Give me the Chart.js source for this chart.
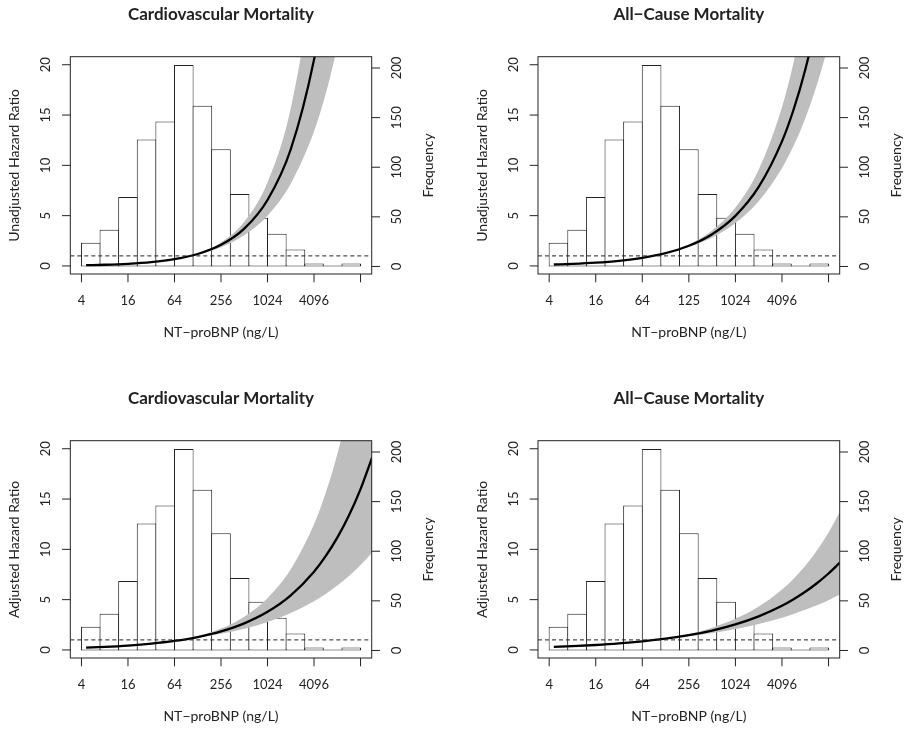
<!DOCTYPE html>
<html>
<head>
<meta charset="utf-8">
<script src="https://cdn.jsdelivr.net/npm/chart.js@4.4.1/dist/chart.umd.min.js"></script>
<style>
  html, body { margin: 0; padding: 0; background: #ffffff; overflow: hidden; }
  #wrap { position: relative; width: 906px; height: 729px; }
  canvas { position: absolute; }
</style>
</head>
<body>
<div id="wrap">
  <canvas id="c0" width="453" height="384" style="left:0px;top:0px"></canvas>
  <canvas id="c1" width="453" height="384" style="left:453px;top:0px"></canvas>
  <canvas id="c2" width="453" height="345" style="left:0px;top:384px"></canvas>
  <canvas id="c3" width="453" height="345" style="left:453px;top:384px"></canvas>
</div>
<script>
// ---------------- data (x positions are log2 of NT-proBNP, ng/L) ----------------
const X_CURVE = [2.2, 3, 4, 5, 6, 7, 8, 9, 10, 11, 12, 12.5, 13, 13.5, 14, 14.5];

// Unadjusted, cardiovascular mortality
const TL_EST = [0.077, 0.121, 0.215, 0.379, 0.671, 1.186, 2.098, 3.71, 6.56, 11.6, 20.51, 27.3, 36.3, 48.2, 64.1, 85.3];
const TL_UP  = [0.103, 0.153, 0.254, 0.42, 0.694, 1.227, 2.32, 4.39, 8.29, 15.68, 29.65, 40.8, 56.1, 77.1, 106, 145.8];
const TL_LO  = [0.055, 0.092, 0.177, 0.338, 0.645, 1.141, 1.866, 3.05, 4.99, 8.17, 13.36, 17.08, 21.85, 27.9, 35.7, 45.7];

// Unadjusted, all-cause mortality
const TR_EST = [0.143, 0.206, 0.325, 0.512, 0.807, 1.273, 2.006, 3.16, 4.98, 7.85, 12.38, 15.55, 19.51, 24.5, 30.8, 38.6];
const TR_UP  = [0.173, 0.241, 0.363, 0.547, 0.825, 1.301, 2.143, 3.53, 5.81, 9.57, 15.77, 20.25, 25.97, 33.3, 42.8, 54.9];
const TR_LO  = [0.119, 0.177, 0.291, 0.48, 0.79, 1.245, 1.878, 2.83, 4.27, 6.44, 9.72, 11.94, 14.66, 18.0, 22.1, 27.2];

// Adjusted, cardiovascular mortality
const BL_EST = [0.229, 0.305, 0.437, 0.626, 0.898, 1.287, 1.844, 2.643, 3.789, 5.43, 7.78, 9.32, 11.16, 13.36, 15.99, 19.15];
const BL_UP  = [0.321, 0.401, 0.529, 0.698, 0.92, 1.363, 2.123, 3.307, 5.15, 8.02, 12.49, 15.6, 19.45, 24.3, 30.3, 37.8];
const BL_LO  = [0.163, 0.232, 0.361, 0.562, 0.875, 1.214, 1.602, 2.113, 2.787, 3.677, 4.85, 5.57, 6.4, 7.35, 8.44, 9.69];

// Adjusted, all-cause mortality
const BR_EST = [0.299, 0.373, 0.491, 0.645, 0.849, 1.116, 1.468, 1.931, 2.54, 3.34, 4.39, 5.04, 5.78, 6.63, 7.6, 8.71];
const BR_UP  = [0.386, 0.46, 0.571, 0.708, 0.879, 1.142, 1.592, 2.219, 3.093, 4.31, 6.01, 7.09, 8.37, 9.88, 11.67, 13.78];
const BR_LO  = [0.232, 0.303, 0.422, 0.588, 0.82, 1.091, 1.354, 1.68, 2.085, 2.588, 3.212, 3.58, 3.987, 4.44, 4.95, 5.51];

// Histogram of NT-proBNP (bins of 0.8 log2 units from 4 to 16384 ng/L)
const HIST_MID  = [2.4, 3.2, 4.0, 4.8, 5.6, 6.4, 7.2, 8.0, 8.8, 9.6, 10.4, 11.2, 12.0, 12.8, 13.6];
const HIST_FREQ = [24, 37, 70, 128, 146, 203, 162, 118, 73, 49, 33, 17, 3, 1, 3];

// Axes
const X_TICKS = [2, 4, 6, 8, 10, 12, 14];
const X_LABELS = ['4', '16', '64', '256', '1024', '4096', ''];
const X_LABELS_TR = ['4', '16', '64', '125', '1024', '4096', ''];
const HR_TICKS = [0, 5, 10, 15, 20];
const FREQ_TICKS = [0, 50, 100, 150, 200];
const REF_HR = 1;

const TITLES = ['Cardiovascular Mortality', 'All\u2212Cause Mortality', 'Cardiovascular Mortality', 'All\u2212Cause Mortality'];
const Y_TITLES = ['Unadjusted Hazard Ratio', 'Unadjusted Hazard Ratio', 'Adjusted Hazard Ratio', 'Adjusted Hazard Ratio'];
const X_TITLE = 'NT\u2212proBNP (ng/L)';
const R_TITLE = 'Frequency';

// ---------------- rendering ----------------
const FONT = 'Lato, "Open Sans", "DejaVu Sans", sans-serif';
const INK = '#222222';
const X_MIN = 1.52, X_MAX = 14.48;

function vText(ctx, text, x, y) {
  ctx.save();
  ctx.translate(x, y);
  ctx.rotate(-Math.PI / 2);
  ctx.fillText(text, 0, 0);
  ctx.restore();
}

const rAxes = {
  id: 'rAxes',
  afterDraw(chart, args, opts) {
    const ctx = chart.ctx, a = chart.chartArea;
    const sx = chart.scales.x, sl = chart.scales.yHR, sr = chart.scales.yFreq;
    const tl = 8.3;
    ctx.save();
    ctx.strokeStyle = INK;
    ctx.lineWidth = 1;
    ctx.strokeRect(a.left, a.top, a.right - a.left, a.bottom - a.top);
    ctx.beginPath();
    X_TICKS.forEach(v => { const p = sx.getPixelForValue(v); ctx.moveTo(p, a.bottom); ctx.lineTo(p, a.bottom + tl); });
    HR_TICKS.forEach(v => { const p = sl.getPixelForValue(v); ctx.moveTo(a.left, p); ctx.lineTo(a.left - tl, p); });
    FREQ_TICKS.forEach(v => { const p = sr.getPixelForValue(v); ctx.moveTo(a.right, p); ctx.lineTo(a.right + tl, p); });
    ctx.stroke();

    ctx.fillStyle = INK;
    ctx.textAlign = 'center';
    ctx.textBaseline = 'middle';
    ctx.font = '13px ' + FONT;
    X_TICKS.forEach((v, i) => ctx.fillText(opts.xLabels[i], sx.getPixelForValue(v), a.bottom + 26.5));
    HR_TICKS.forEach(v => vText(ctx, String(v), a.left - 24, sl.getPixelForValue(v)));
    FREQ_TICKS.forEach(v => vText(ctx, String(v), a.right + 25, sr.getPixelForValue(v)));
    ctx.font = '14px ' + FONT;
    const cx = (a.left + a.right) / 2, cy = (a.top + a.bottom) / 2;
    ctx.fillText(X_TITLE, cx, a.bottom + 58);
    vText(ctx, opts.yTitle, a.left - 56, cy);
    vText(ctx, R_TITLE, a.right + 57, cy);
    ctx.restore();
  }
};

function pts(ys) { return X_CURVE.map((x, i) => ({ x: x, y: ys[i] })); }

const PANELS = [
  { id: 'c0', est: TL_EST, up: TL_UP, lo: TL_LO, xl: X_LABELS,    pad: { left: 70.3, right: 81.3, bottom: 110 } },
  { id: 'c1', est: TR_EST, up: TR_UP, lo: TR_LO, xl: X_LABELS_TR, pad: { left: 85,   right: 66.3, bottom: 110 } },
  { id: 'c2', est: BL_EST, up: BL_UP, lo: BL_LO, xl: X_LABELS,    pad: { left: 70.3, right: 81.3, bottom: 71 } },
  { id: 'c3', est: BR_EST, up: BR_UP, lo: BR_LO, xl: X_LABELS,    pad: { left: 85,   right: 66.3, bottom: 71 } }
];

PANELS.forEach((p, k) => {
  new Chart(document.getElementById(p.id), {
    type: 'line',
    data: {
      datasets: [
        {
          type: 'bar', label: 'Frequency', yAxisID: 'yFreq', order: 4,
          data: HIST_MID.map((x, i) => ({ x: x, y: HIST_FREQ[i] })),
          backgroundColor: '#ffffff', borderColor: INK,
          borderWidth: 1, borderSkipped: false,
          barPercentage: 1.054, categoryPercentage: 1
        },
        {
          label: 'Upper 95% CI', yAxisID: 'yHR', order: 3, data: pts(p.up),
          borderWidth: 0, borderColor: 'rgba(0,0,0,0)', backgroundColor: '#bebebe',
          fill: '+1', pointRadius: 0, cubicInterpolationMode: 'monotone'
        },
        {
          label: 'Lower 95% CI', yAxisID: 'yHR', order: 3, data: pts(p.lo),
          borderWidth: 0, borderColor: 'rgba(0,0,0,0)', fill: false,
          pointRadius: 0, cubicInterpolationMode: 'monotone'
        },
        {
          label: 'Hazard ratio', yAxisID: 'yHR', order: 2, data: pts(p.est),
          borderWidth: 2.3, borderColor: '#000000', fill: false,
          pointRadius: 0, cubicInterpolationMode: 'monotone'
        },
        {
          label: 'HR = 1', yAxisID: 'yHR', order: 1,
          data: [{ x: X_MIN, y: REF_HR }, { x: X_MAX, y: REF_HR }],
          borderWidth: 1, borderColor: INK, borderDash: [4, 3], fill: false, pointRadius: 0
        }
      ]
    },
    options: {
      responsive: false, animation: false, devicePixelRatio: 1,
      layout: { padding: { left: p.pad.left, right: p.pad.right, top: 0, bottom: p.pad.bottom } },
      scales: {
        x: { type: 'linear', min: X_MIN, max: X_MAX, offset: false, display: false },
        yHR: { type: 'linear', position: 'left', min: -0.8, max: 20.8, display: false },
        yFreq: { type: 'linear', position: 'right', min: -7.6, max: 211.4, display: false }
      },
      plugins: {
        legend: { display: false },
        tooltip: { enabled: false },
        title: {
          display: true, text: TITLES[k], color: INK,
          font: { family: FONT, size: 17, weight: 'bold', lineHeight: 1.2 },
          padding: { top: 4.8, bottom: 31.5 }
        },
        rAxes: { xLabels: p.xl, yTitle: Y_TITLES[k] }
      }
    },
    plugins: [rAxes]
  });
});
</script>
</body>
</html>
